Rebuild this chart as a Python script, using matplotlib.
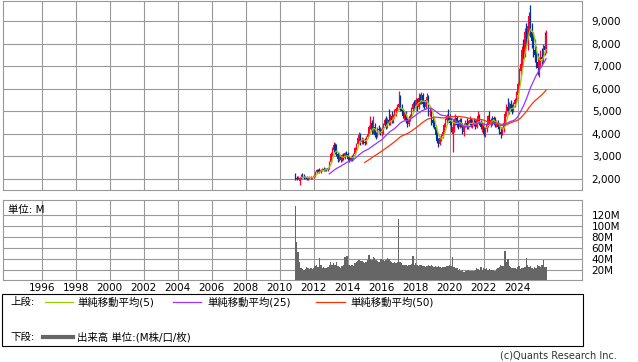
import matplotlib
matplotlib.use('Agg')
import matplotlib.pyplot as plt
import numpy as np
import pandas as pd
from matplotlib.patches import Rectangle
from matplotlib.lines import Line2D

plt.rcParams['font.family'] = ['DejaVu Sans', 'Noto Sans CJK JP']

# ---------------- data (monthly, Dec 2010 .. Sep 2025) ----------------
first_month = (2010, 12)

opens = [
    2150,
    2050, 2000, 1900, 2050, 2200, 2100, 2050, 2100, 2000, 2050, 2100, 2020,
    2080, 2150, 2300, 2400, 2350, 2300, 2400, 2450, 2400, 2450, 2400, 2500,
    2750, 3100, 3300, 3500, 3200, 3100, 2900, 3000, 2850, 3050, 2950, 3150,
    3100, 2900, 2850, 2950, 2900, 3100, 3350, 3550, 3800, 3950, 3650, 3700,
    3650, 3600, 3850, 4000, 4300, 4500, 4100, 4300, 3950, 3900, 4200, 4150,
    4050, 4200, 4400, 4600, 4300, 4600, 4500, 4800, 4600, 4800, 5000, 5100,
    5200, 5300, 5100, 5000, 4800, 4900, 4600, 4450, 4600, 4800, 5100, 5300,
    5250, 5500, 5200, 5600, 5400, 5700, 5300, 5200, 5500, 5650, 4950, 5000,
    4600, 4500, 4300, 3950, 3700, 3550, 3800, 3900, 4100, 4400, 4600, 4800,
    4700, 4500, 4000, 4300, 4600, 4700, 4400, 4300, 4600, 4400, 4100, 4400,
    4500, 4300, 4500, 4600, 4400, 4500, 4450, 4300, 4600, 4800, 4500, 4300,
    4400, 4000, 4200, 4400, 4800, 4500, 4600, 4500, 4700, 4400, 4500, 4300,
    4100, 4000, 4200, 4500, 4900, 5200, 5000, 5300, 5100, 5000, 5300, 5500,
    5700, 6200, 6800, 7100, 7700, 7500, 8500, 8200, 8800, 9200, 8500, 8100,
    7700, 7500, 7200, 6900, 7300, 7400, 7300, 7900, 7700,
]
highs = [
    2250,
    2150, 2150, 2100, 2200, 2250, 2200, 2150, 2150, 2100, 2150, 2150, 2100,
    2200, 2350, 2450, 2450, 2500, 2450, 2500, 2550, 2500, 2500, 2550, 2800,
    3200, 3400, 3650, 3600, 3550, 3200, 3100, 3050, 3100, 3150, 3200, 3250,
    3200, 3000, 3000, 3050, 3150, 3400, 3600, 3900, 4100, 4050, 3850, 3800,
    3800, 3900, 4100, 4400, 4800, 4600, 4800, 4500, 4100, 4300, 4400, 4300,
    4300, 4500, 4700, 4800, 4700, 5100, 4900, 5000, 4900, 5100, 5200, 5300,
    5900, 5700, 5300, 5100, 5000, 5000, 4700, 4700, 4900, 5200, 5400, 5500,
    5600, 5600, 5800, 5750, 5850, 5800, 5500, 5600, 5800, 5700, 5200, 5100,
    4800, 4700, 4400, 4100, 3800, 3900, 4000, 4200, 4500, 4700, 4900, 5100,
    4900, 4700, 4500, 4700, 4900, 4800, 4600, 4700, 4700, 4500, 4500, 4600,
    4700, 4600, 4800, 4700, 4650, 4700, 4600, 4700, 5000, 4900, 4600, 4500,
    4500, 4300, 4500, 4850, 5000, 4700, 4800, 4800, 4750, 4600, 4600, 4400,
    4300, 4300, 4600, 5000, 5300, 5600, 5400, 5500, 5300, 5400, 5600, 5900,
    6300, 6900, 7300, 7900, 8200, 8700, 8900, 9000, 9400, 9700, 8900, 8500,
    8200, 7900, 7600, 7400, 7700, 7800, 8000, 8500, 8600,
]
lows = [
    1950,
    1950, 1980, 1720, 2000, 2050, 2000, 2000, 1950, 1950, 2000, 1980, 2000,
    2050, 2100, 2250, 2300, 2250, 2250, 2350, 2350, 2350, 2350, 2350, 2450,
    2700, 3000, 3200, 3100, 3000, 2750, 2800, 2750, 2800, 2850, 2900, 3000,
    2850, 2750, 2800, 2800, 2850, 3050, 3300, 3500, 3700, 3500, 3550, 3550,
    3500, 3550, 3800, 3950, 4200, 4000, 4000, 3850, 3750, 3850, 4050, 3950,
    3900, 4000, 4300, 4200, 4250, 4400, 4400, 4500, 4500, 4700, 4800, 5000,
    5100, 5000, 4900, 4700, 4600, 4500, 4300, 4350, 4550, 4750, 5000, 5100,
    5200, 5000, 5100, 5300, 5300, 5200, 5100, 5100, 5400, 4800, 4800, 4400,
    4300, 4200, 3800, 3600, 3400, 3500, 3700, 3800, 4000, 4300, 4500, 4600,
    4400, 4100, 3200, 4100, 4400, 4300, 4200, 4250, 4300, 4000, 3900, 4300,
    4200, 4200, 4400, 4300, 4250, 4350, 4200, 4250, 4500, 4400, 4200, 4100,
    3900, 3850, 4100, 4300, 4400, 4300, 4400, 4400, 4300, 4300, 4200, 4000,
    3800, 3950, 4100, 4400, 4800, 4900, 4900, 5000, 4900, 4950, 5200, 5400,
    5600, 6100, 6600, 6900, 7300, 7400, 7900, 7700, 8400, 8300, 7800, 7400,
    7200, 6900, 6600, 6500, 7000, 7100, 7200, 7500, 7600,
]
closes = [
    2050,
    2000, 2100, 2050, 2100, 2100, 2050, 2100, 2000, 2050, 2100, 2020, 2080,
    2150, 2300, 2400, 2350, 2300, 2400, 2450, 2400, 2450, 2400, 2500, 2750,
    3100, 3300, 3500, 3200, 3100, 2900, 3000, 2850, 3050, 2950, 3150, 3100,
    2900, 2850, 2950, 2900, 3100, 3350, 3550, 3800, 3950, 3650, 3700, 3650,
    3600, 3850, 4000, 4300, 4500, 4100, 4300, 3950, 3900, 4200, 4150, 4050,
    4200, 4400, 4600, 4300, 4600, 4500, 4800, 4600, 4800, 5000, 5100, 5200,
    5300, 5100, 5000, 4800, 4900, 4600, 4450, 4600, 4800, 5100, 5300, 5250,
    5500, 5200, 5600, 5400, 5700, 5300, 5200, 5500, 5650, 4950, 5000, 4600,
    4500, 4300, 3950, 3700, 3550, 3800, 3900, 4100, 4400, 4600, 4800, 4700,
    4500, 4300, 4300, 4600, 4700, 4400, 4300, 4600, 4400, 4100, 4400, 4500,
    4300, 4500, 4600, 4400, 4500, 4450, 4300, 4600, 4800, 4500, 4300, 4400,
    4000, 4200, 4400, 4800, 4500, 4600, 4500, 4700, 4400, 4500, 4300, 4100,
    4000, 4200, 4500, 4900, 5200, 5000, 5300, 5100, 5000, 5300, 5500, 5700,
    6200, 6800, 7100, 7700, 7500, 8500, 8200, 8800, 9200, 8500, 8100, 7700,
    7500, 7200, 6900, 7300, 7400, 7300, 7900, 7700, 8400,
]
volumes_m = [
    137,
    70, 52, 35, 24, 22, 21, 22, 25, 23, 22, 24, 22,
    24, 28, 30, 26, 41, 30, 24, 25, 23, 24, 26, 30,
    35, 30, 32, 30, 34, 28, 26, 24, 27, 30, 44, 45,
    46, 30, 28, 30, 28, 32, 35, 36, 38, 37, 36, 34,
    33, 35, 38, 48, 40, 38, 44, 42, 38, 36, 34, 40,
    40, 38, 36, 38, 42, 40, 36, 35, 33, 34, 32, 35,
    112, 35, 32, 30, 29, 30, 28, 29, 30, 31, 45, 30,
    32, 30, 28, 30, 29, 28, 27, 26, 28, 30, 27, 29,
    27, 26, 28, 26, 27, 25, 24, 26, 25, 26, 27, 28,
    30, 28, 43, 25, 24, 23, 20, 22, 19, 21, 16, 19,
    18, 21, 19, 18, 18, 19, 20, 24, 22, 20, 25, 21,
    24, 22, 23, 21, 22, 20, 21, 20, 19, 22, 24, 26,
    30, 28, 27, 55, 35, 40, 28, 25, 24, 23, 24, 22,
    25, 27, 22, 24, 23, 25, 41, 30, 26, 28, 24, 22,
    26, 24, 30, 28, 26, 30, 38, 26, 25,
]
ma_windows = [5, 25, 50]
ma_labels = ['単純移動平均(5)', '単純移動平均(25)', '単純移動平均(50)']
price_ticks = [2000, 3000, 4000, 5000, 6000, 7000, 8000, 9000]
volume_ticks = [20, 40, 60, 80, 100, 120]
year_ticks = list(range(1996, 2025, 2))

# ---------------- style ----------------
W, H = 638, 362
UP = '#FF0033'
DOWN = '#003399'
MA_COLORS = ['#99CC00', '#9933FF', '#FF3300']
GRID = '#999999'
VOLC = '#666666'

def fx(px):
    return px / W

def fy(py):
    return 1 - py / H

fig = plt.figure(figsize=(W / 100, H / 100), dpi=100)
fig.patch.set_facecolor('white')

ax = fig.add_axes([fx(3), fy(190), fx(582) - fx(3), fy(0.7) - fy(190)])
axv = fig.add_axes([fx(3), fy(280), fx(582) - fx(3), fy(200) - fy(280)], sharex=ax)

n = len(closes)
x = np.array([first_month[0] + (first_month[1] - 1) / 12 + i / 12 for i in range(n)])
o = np.array(opens, float); h = np.array(highs, float)
l = np.array(lows, float); c = np.array(closes, float)
cols = [UP if cc >= oo else DOWN for oo, cc in zip(o, c)]

# candles
ax.vlines(x, l, h, colors=cols, lw=0.9, zorder=3)
body_lo = np.minimum(o, c)
body_h = np.maximum(np.abs(c - o), 20)
ax.bar(x, body_h, bottom=body_lo, width=0.075, color=cols, linewidth=0, zorder=3)

# moving averages
s = pd.Series(c, index=x)
for w_, col in zip(ma_windows, MA_COLORS):
    m = s.rolling(w_).mean()
    ax.plot(x, m.values, color=col, lw=0.9, zorder=4)

# volume
axv.bar(x, volumes_m, width=1 / 12, color=VOLC, linewidth=0, align='center', zorder=3)

for a in (ax, axv):
    a.set_xlim(1993.72, 2027.78)
    a.set_xticks(year_ticks)
    a.grid(True, color=GRID, lw=0.8, zorder=0)
    a.set_axisbelow(True)
    for sp in a.spines.values():
        sp.set_color(GRID)
        sp.set_linewidth(0.8)
    a.yaxis.tick_right()
    a.tick_params(axis='both', length=0, labelsize=7.5, colors='black')

ax.set_ylim(1510, 9900)
ax.set_yticks(price_ticks)
ax.set_yticklabels([f'{v:,}' for v in price_ticks])
ax.tick_params(axis='x', labelbottom=False)
ax.tick_params(axis='y', pad=7)

axv.set_ylim(2, 147)
axv.set_yticks(volume_ticks)
axv.set_yticklabels([f'{v}M' for v in volume_ticks])
axv.tick_params(axis='y', pad=7)
axv.tick_params(axis='x', pad=2)
axv.set_xticklabels([str(y) for y in year_ticks])
for lbl in axv.get_yticklabels():
    lbl.set_horizontalalignment('left')

axv.text(0.009, 0.88, '単位: M', transform=axv.transAxes, fontsize=7.5,
         ha='left', va='center')

# legend box
fig.add_artist(Rectangle((fx(2), fy(346)), fx(583) - fx(2), fy(294) - fy(346),
                         transform=fig.transFigure, fill=False, ec='black', lw=0.8))
fs = 7.5
fig.text(fx(10), fy(302), '上段:', fontsize=fs, va='center', ha='left')
seg = [(45, 73, 77), (173, 201, 207), (316, 345, 350)]
for (a0, a1, t0), col, lab in zip(seg, MA_COLORS, ma_labels):
    fig.add_artist(Line2D([fx(a0), fx(a1)], [fy(302), fy(302)], color=col, lw=0.9,
                          transform=fig.transFigure))
    fig.text(fx(t0), fy(302), lab, fontsize=fs, va='center', ha='left')
fig.text(fx(10), fy(337), '下段:', fontsize=fs, va='center', ha='left')
fig.add_artist(Line2D([fx(43), fx(73)], [fy(337), fy(337)], color=VOLC, lw=3,
                      transform=fig.transFigure))
fig.text(fx(77), fy(337), '出来高 単位:(M株/口/枚)', fontsize=fs, va='center', ha='left')
fig.text(fx(617), fy(356), '(c)Quants Research Inc.', fontsize=7, va='center',
         ha='right', color='#333333')

fig.savefig('out.png', dpi=100, facecolor='white')
